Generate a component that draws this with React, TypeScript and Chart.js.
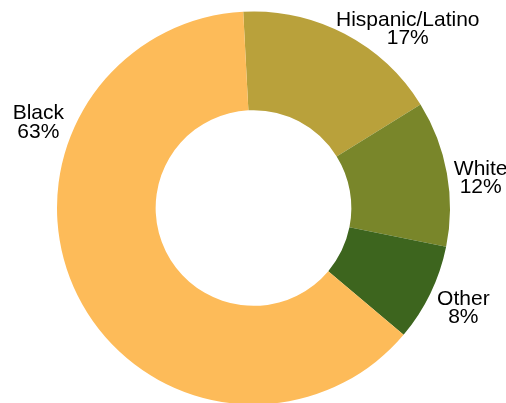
import React, { useEffect, useRef } from "react";
import { Chart, registerables } from "chart.js";

Chart.register(...registerables);

const categories = ["Hispanic/Latino", "White", "Other", "Black"];
const shares = [17, 12, 8, 63];
const percentLabels = ["17%", "12%", "8%", "63%"];
const colors = ["#B9A13B", "#79862A", "#3D651E", "#FDBB59"];
// label anchor offsets, in units of the outer radius, relative to the centre
const labelOffsetX = [0.785, 1.156, 1.068, -1.095];
const labelOffsetY = [-0.926, -0.168, 0.494, -0.451];

const outsideLabels = {
  id: "outsideLabels",
  afterDraw(chart: any) {
    const meta = chart.getDatasetMeta(0);
    const arc = meta.data[0];
    if (!arc) return;
    const { x, y, outerRadius } = arc.getProps(["x", "y", "outerRadius"], true);
    const ctx = chart.ctx;
    ctx.save();
    ctx.font = '21px "Liberation Sans", Arial, sans-serif';
    ctx.fillStyle = "#000000";
    ctx.textAlign = "center";
    ctx.textBaseline = "alphabetic";
    categories.forEach((c, i) => {
      const lx = x + labelOffsetX[i] * outerRadius;
      const ly = y + labelOffsetY[i] * outerRadius;
      ctx.fillText(c, lx, ly);
      ctx.fillText(percentLabels[i], lx, ly + 18.4);
    });
    ctx.restore();
  },
};

export default function App() {
  const ref = useRef<HTMLCanvasElement | null>(null);
  useEffect(() => {
    if (!ref.current) return;
    const chart = new Chart(ref.current, {
      type: "doughnut",
      data: {
        labels: categories,
        datasets: [
          {
            data: shares,
            backgroundColor: colors,
            borderWidth: 0,
            hoverOffset: 0,
            offset: 0,
          },
        ],
      },
      options: {
        animation: false,
        responsive: false,
        cutout: "49.8%",
        rotation: -3,
        layout: { padding: { left: 57, right: 56, top: 11.5, bottom: 25.5 } },
        plugins: { legend: { display: false }, tooltip: { enabled: false } },
        events: [],
      },
      plugins: [outsideLabels],
    });
    return () => chart.destroy();
  }, []);
  return (
    <div style={{ position: "fixed", left: 0, top: 0, width: 506, height: 430, background: "#fff" }}>
      <canvas ref={ref} width={506} height={430} style={{ display: "block", width: 506, height: 430 }} />
    </div>
  );
}
